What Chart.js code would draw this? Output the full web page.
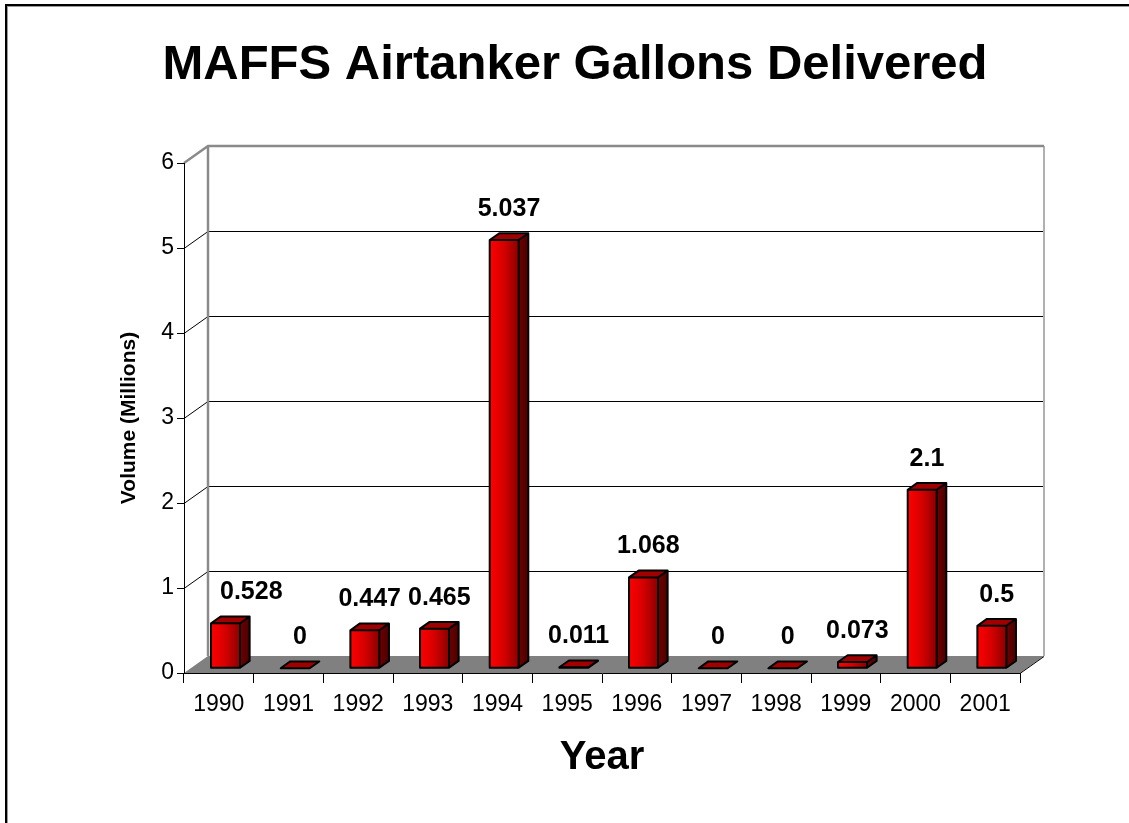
<!DOCTYPE html>
<html>
<head>
<meta charset="utf-8">
<script src="https://cdn.jsdelivr.net/npm/chart.js@4"></script>
<style>
  body { margin: 0; background: #fff; overflow: hidden; }
  #wrap { position: relative; width: 1129px; height: 823px; overflow: hidden; }
  #frame { position: absolute; left: 5px; top: 4px; width: 1200px; height: 900px;
           border-left: 2px solid #000; border-top: 2px solid #000;
           box-shadow: inset 1px 1px 0 #9a9a9a; pointer-events: none; }
  canvas { position: absolute; left: 0; top: 0; }
</style>
</head>
<body>
<div id="wrap">
  <canvas id="myChart" width="1129" height="823"></canvas>
  <div id="frame"></div>
</div>
<script>
// dane: galony (w milionach) dostarczone przez MAFFS
const years = ['1990', '1991', '1992', '1993', '1994', '1995', '1996', '1997', '1998', '1999', '2000', '2001'];
const gallons = [0.528, 0, 0.447, 0.465, 5.037, 0.011, 1.068, 0, 0, 0.073, 2.1, 0.5];
const yMin = 0;
const yMax = 6;
const yStep = 1;

const titleText = 'MAFFS Airtanker Gallons Delivered';
const yTitle = 'Volume (Millions)';
const xTitle = 'Year';

const FONT = 'Arial, "Liberation Sans", sans-serif';

// glebokosc "3D" scian i slupkow
const wallDX = 24, wallDY = 17;
const barFX = 6.7, barFY = 4.8;   // przesuniecie przedniej sciany slupka
const barDX = 9.6, barDY = 6.8;   // glebokosc slupka

const threeD = {
    id: 'threeD',
    // tylna sciana, linie siatki i podloga
    beforeDraw(chart) {
        const ctx = chart.ctx;
        const y = chart.scales.y;
        const area = chart.chartArea;
        const L = area.left, R = area.right;
        ctx.save();

        // podloga
        const y0 = y.getPixelForValue(0);
        ctx.fillStyle = '#808080';
        ctx.beginPath();
        ctx.moveTo(L, y0);
        ctx.lineTo(R, y0);
        ctx.lineTo(R + wallDX, y0 - wallDY);
        ctx.lineTo(L + wallDX, y0 - wallDY);
        ctx.closePath();
        ctx.fill();
        ctx.strokeStyle = '#000';
        ctx.lineWidth = 1;
        ctx.beginPath();
        ctx.moveTo(R, y0 + 0.5);
        ctx.lineTo(R + wallDX, y0 - wallDY + 0.5);
        ctx.stroke();

        // linie siatki na tylnej scianie
        for (let v = yMin + yStep; v < yMax; v += yStep) {
            const py = Math.round(y.getPixelForValue(v)) + 0.5;
            ctx.beginPath();
            ctx.moveTo(L, py);
            ctx.lineTo(L + wallDX, py - wallDY);
            ctx.lineTo(R + wallDX, py - wallDY);
            ctx.stroke();
        }

        // krawedzie scian
        const top = y.getPixelForValue(yMax);
        ctx.strokeStyle = '#b0b0b0';
        ctx.lineWidth = 2;
        ctx.beginPath();
        ctx.moveTo(R + wallDX, top - wallDY);
        ctx.lineTo(R + wallDX, y0 - wallDY);
        ctx.stroke();

        ctx.strokeStyle = '#8a8a8a';
        ctx.lineWidth = 2.5;
        ctx.beginPath();
        ctx.moveTo(L, top);
        ctx.lineTo(L + wallDX, top - wallDY);
        ctx.lineTo(R + wallDX, top - wallDY);
        ctx.moveTo(L + wallDX, top - wallDY);
        ctx.lineTo(L + wallDX, y0 - wallDY);
        ctx.stroke();
        ctx.restore();
    },
    // slupki 3D i etykiety wartosci
    afterDatasetsDraw(chart) {
        const ctx = chart.ctx;
        const meta = chart.getDatasetMeta(0);
        const wallLeft = chart.chartArea.left + wallDX;
        ctx.save();
        ctx.lineJoin = 'round';
        meta.data.forEach((el, i) => {
            const p = el.getProps(['x', 'y', 'base', 'width'], true);
            const x0 = p.x - p.width / 2 + barFX;
            const x1 = x0 + p.width;
            const yb = p.base - barFY;
            const yt = p.y - barFY;

            // przod
            const g = ctx.createLinearGradient(x0, 0, x1, 0);
            g.addColorStop(0, '#ff0000');
            g.addColorStop(0.5, '#d40000');
            g.addColorStop(1, '#8a0000');
            ctx.fillStyle = g;
            ctx.fillRect(x0, yt, p.width, yb - yt);

            // bok
            const gs = ctx.createLinearGradient(x1, 0, x1 + barDX, 0);
            gs.addColorStop(0, '#700000');
            gs.addColorStop(1, '#4a0000');
            ctx.fillStyle = gs;
            ctx.beginPath();
            ctx.moveTo(x1, yb);
            ctx.lineTo(x1 + barDX, yb - barDY);
            ctx.lineTo(x1 + barDX, yt - barDY);
            ctx.lineTo(x1, yt);
            ctx.closePath();
            ctx.fill();

            // gora
            ctx.fillStyle = '#a00000';
            ctx.beginPath();
            ctx.moveTo(x0, yt);
            ctx.lineTo(x1, yt);
            ctx.lineTo(x1 + barDX, yt - barDY);
            ctx.lineTo(x0 + barDX, yt - barDY);
            ctx.closePath();
            ctx.fill();

            // obrys
            ctx.strokeStyle = '#000';
            ctx.lineWidth = 2;
            ctx.beginPath();
            ctx.moveTo(x0, yb);
            ctx.lineTo(x1, yb);
            ctx.lineTo(x1 + barDX, yb - barDY);
            ctx.lineTo(x1 + barDX, yt - barDY);
            ctx.lineTo(x0 + barDX, yt - barDY);
            ctx.lineTo(x0, yt);
            ctx.closePath();
            ctx.moveTo(x0, yt);
            ctx.lineTo(x1, yt);
            ctx.lineTo(x1, yb);
            ctx.moveTo(x1, yt);
            ctx.lineTo(x1 + barDX, yt - barDY);
            ctx.stroke();

            // etykieta
            const txt = String(gallons[i]);
            ctx.font = 'bold 25px ' + FONT;
            ctx.fillStyle = '#000';
            ctx.textAlign = 'center';
            ctx.textBaseline = 'alphabetic';
            const w = ctx.measureText(txt).width;
            let cx = (x0 + x1 + barDX) / 2;
            if (cx - w / 2 < wallLeft + 12) cx = wallLeft + 12 + w / 2;
            ctx.fillText(txt, cx, yt - 24);
        });
        ctx.restore();
    },
    // tytul wykresu
    afterDraw(chart) {
        const ctx = chart.ctx;
        ctx.save();
        ctx.font = 'bold 49px ' + FONT;
        ctx.fillStyle = '#000';
        ctx.textAlign = 'center';
        ctx.textBaseline = 'alphabetic';
        ctx.fillText(titleText, 575, 79);
        ctx.restore();
    }
};

const data = {
    labels: years,
    datasets: [{
        label: 'Volume (Millions)',
        data: gallons,
        backgroundColor: 'rgba(0,0,0,0)',
        borderWidth: 0,
        categoryPercentage: 1,
        barPercentage: 0.416,
    }]
};

const config = {
    type: 'bar',
    data: data,
    plugins: [threeD],
    options: {
        responsive: false,
        animation: false,
        layout: {
            padding: { left: 0, right: 109, top: 163, bottom: 0 }
        },
        plugins: {
            legend: { display: false },
            tooltip: { enabled: false },
            title: { display: false }
        },
        scales: {
            y: {
                min: yMin,
                max: yMax,
                afterFit: s => { s.width = 184; },
                ticks: {
                    stepSize: yStep,
                    color: '#000',
                    padding: 3,
                    font: { family: FONT, size: 23 }
                },
                grid: {
                    drawOnChartArea: false,
                    tickLength: 7,
                    color: '#000'
                },
                border: { display: true, color: '#000', width: 1 },
                title: {
                    display: true,
                    text: yTitle,
                    color: '#000',
                    padding: { top: 117, bottom: 0 },
                    font: { family: FONT, size: 21, weight: 'bold' }
                }
            },
            x: {
                afterFit: s => { s.height = 150; },
                ticks: {
                    color: '#000',
                    padding: 8,
                    font: { family: FONT, size: 23 }
                },
                grid: {
                    offset: true,
                    drawOnChartArea: false,
                    tickLength: 10,
                    color: '#000'
                },
                border: { display: true, color: '#000', width: 1 },
                title: {
                    display: true,
                    text: xTitle,
                    color: '#000',
                    padding: { top: 0, bottom: 41 },
                    font: { family: FONT, size: 40, weight: 'bold' }
                }
            }
        }
    }
};

const myChart = new Chart(document.getElementById('myChart'), config);
</script>
</body>
</html>
